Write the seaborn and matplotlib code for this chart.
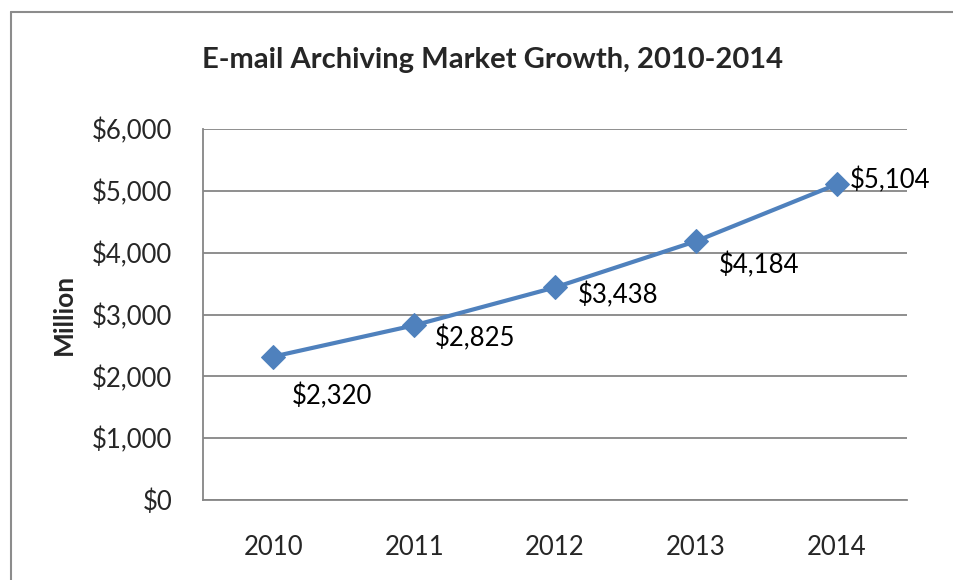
import matplotlib
matplotlib.use("Agg")
import matplotlib.pyplot as plt
import matplotlib.ticker as mticker
from matplotlib.lines import Line2D
import seaborn as sns
import pandas as pd

# data
years = ["2010", "2011", "2012", "2013", "2014"]
market = [2320, 2825, 3438, 4184, 5104]
# where each value label sits relative to its point (pixels)
label_offsets = [(18, -40), (21, -13), (23, -8), (23, -24), (13, 4)]

sns.set_style("white")
plt.rcParams["font.family"] = ["Lato", "DejaVu Sans"]

df = pd.DataFrame({"year": years, "value": market})

fig = plt.figure(figsize=(9.54, 5.8), dpi=100)
ax = fig.add_axes([0.2128, 0.1379, 0.7379, 0.6397])

sns.lineplot(data=df, x="year", y="value", ax=ax, color="#4F81BD",
             linewidth=3, marker="D", markersize=12,
             markeredgecolor="#4F81BD")

for i, (yr, v) in enumerate(zip(years, market)):
    ax.annotate(f"${v:,}", xy=(i, v), xytext=label_offsets[i],
                textcoords="offset pixels", ha="left", va="center",
                fontsize=18.5, color="black")

ax.set_xlim(-0.5, len(years) - 0.5)
ax.set_ylim(0, 6000)
ax.set_yticks(range(0, 6001, 1000))
ax.yaxis.set_major_formatter(mticker.FuncFormatter(lambda x, p: f"${x:,.0f}"))
ax.grid(axis="y", color="#868686", linewidth=1.3)
ax.grid(axis="x", visible=False)
ax.set_axisbelow(True)

for s in ["top", "right"]:
    ax.spines[s].set_visible(False)
for s in ["left", "bottom"]:
    ax.spines[s].set_color("#868686")
    ax.spines[s].set_linewidth(1.3)

ax.tick_params(axis="y", length=0, pad=22, labelsize=18.5)
ax.tick_params(axis="x", length=0, pad=25, labelsize=18.5)
ax.set_xlabel("")
ax.set_ylabel("Million", fontsize=19, fontweight="bold", labelpad=12)

fig.text(0.516, 0.896, "E-mail Archiving Market Growth, 2010-2014",
         ha="center", va="center", fontsize=21, fontweight="bold")

# outer chart border (only left and top visible in the crop)
fig.add_artist(Line2D([11 / 954, 11 / 954], [0, 1 - 12 / 580],
                      color="#8c8c8c", linewidth=1.5))
fig.add_artist(Line2D([11 / 954, 1], [1 - 12 / 580, 1 - 12 / 580],
                      color="#8c8c8c", linewidth=1.5))

fig.savefig("out.png", dpi=100)
